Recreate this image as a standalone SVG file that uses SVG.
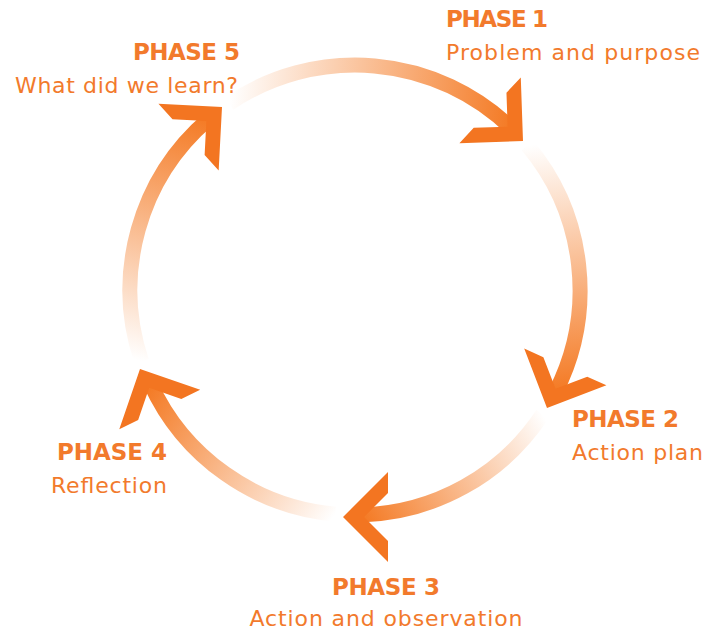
<svg xmlns="http://www.w3.org/2000/svg" xmlns:xlink="http://www.w3.org/1999/xlink" width="719" height="632" viewBox="0 0 719 632">
  <style>
    .arc { fill: none; stroke-width: 15; stroke-linecap: butt; }
    .head { fill: #F37521; }
    .b { font-family: "DejaVu Sans", "Liberation Sans", sans-serif; font-weight: bold; font-size: 23px; fill: #F27A2C; }
    .r { font-family: "DejaVu Sans", "Liberation Sans", sans-serif; font-size: 22px; fill: #F27A2C; }
  </style>
  <defs>
    <path id="chev" d="M0,0 L-45,-45 L-45,-24 L-21,0 L-45,24 L-45,45 Z"/>
    <linearGradient id="g1" gradientUnits="userSpaceOnUse" x1="229.2" y1="103.5" x2="511.3" y2="128.2">
      <stop offset="0" stop-color="#F47A24" stop-opacity="0"/>
      <stop offset="0.55" stop-color="#F47A24" stop-opacity="0.55"/>
      <stop offset="1" stop-color="#F47A24" stop-opacity="1"/>
    </linearGradient>
    <linearGradient id="g2" gradientUnits="userSpaceOnUse" x1="527.4" y1="145.4" x2="555.5" y2="392.2">
      <stop offset="0" stop-color="#F47A24" stop-opacity="0"/>
      <stop offset="0.55" stop-color="#F47A24" stop-opacity="0.55"/>
      <stop offset="1" stop-color="#F47A24" stop-opacity="1"/>
    </linearGradient>
    <linearGradient id="g3" gradientUnits="userSpaceOnUse" x1="542.6" y1="414.2" x2="360.9" y2="514.9">
      <stop offset="0" stop-color="#F47A24" stop-opacity="0"/>
      <stop offset="0.55" stop-color="#F47A24" stop-opacity="0.55"/>
      <stop offset="1" stop-color="#F47A24" stop-opacity="1"/>
    </linearGradient>
    <linearGradient id="g4" gradientUnits="userSpaceOnUse" x1="335.4" y1="514.1" x2="150.3" y2="383.3">
      <stop offset="0" stop-color="#F47A24" stop-opacity="0"/>
      <stop offset="0.55" stop-color="#F47A24" stop-opacity="0.55"/>
      <stop offset="1" stop-color="#F47A24" stop-opacity="1"/>
    </linearGradient>
    <linearGradient id="g5" gradientUnits="userSpaceOnUse" x1="141.6" y1="361.4" x2="208.9" y2="118.9">
      <stop offset="0" stop-color="#F47A24" stop-opacity="0"/>
      <stop offset="0.55" stop-color="#F47A24" stop-opacity="0.55"/>
      <stop offset="1" stop-color="#F47A24" stop-opacity="1"/>
    </linearGradient>
  </defs>
  <rect width="719" height="632" fill="#FFFFFF"/>
  <g id="connectors">
    <path class="arc" stroke="url(#g1)" d="M229.2,103.5 A225,225 0 0 1 511.3,128.2"/>
    <path class="arc" stroke="url(#g2)" d="M527.4,145.4 A225,225 0 0 1 555.5,392.2"/>
    <path class="arc" stroke="url(#g3)" d="M542.6,414.2 A225,225 0 0 1 360.9,514.9"/>
    <path class="arc" stroke="url(#g4)" d="M335.4,514.1 A225,225 0 0 1 150.3,383.3"/>
    <path class="arc" stroke="url(#g5)" d="M141.6,361.4 A225,225 0 0 1 208.9,118.9"/>
    <use class="head" xlink:href="#chev" transform="translate(523,141) rotate(43)"/>
    <use class="head" xlink:href="#chev" transform="translate(547,408) rotate(114)"/>
    <use class="head" xlink:href="#chev" transform="translate(343,517) rotate(180)"/>
    <use class="head" xlink:href="#chev" transform="translate(140,369) rotate(244)"/>
    <use class="head" xlink:href="#chev" transform="translate(222,107) rotate(-42)"/>
  </g>
  <g id="phase1">
    <text class="b" x="446" y="27" textLength="102">PHASE 1</text>
    <text class="r" x="446" y="60" textLength="254">Problem and purpose</text>
  </g>
  <g id="phase2">
    <text class="b" x="572" y="427" textLength="107">PHASE 2</text>
    <text class="r" x="572" y="460" textLength="131">Action plan</text>
  </g>
  <g id="phase3">
    <text class="b" x="386" y="595" text-anchor="middle" textLength="108">PHASE 3</text>
    <text class="r" x="386" y="626" text-anchor="middle" textLength="273">Action and observation</text>
  </g>
  <g id="phase4">
    <text class="b" x="167" y="460" text-anchor="end" textLength="110">PHASE 4</text>
    <text class="r" x="167" y="493" text-anchor="end" textLength="116">Reflection</text>
  </g>
  <g id="phase5">
    <text class="b" x="240" y="60" text-anchor="end" textLength="107">PHASE 5</text>
    <text class="r" x="238" y="93" text-anchor="end" textLength="223">What did we learn?</text>
  </g>
</svg>
